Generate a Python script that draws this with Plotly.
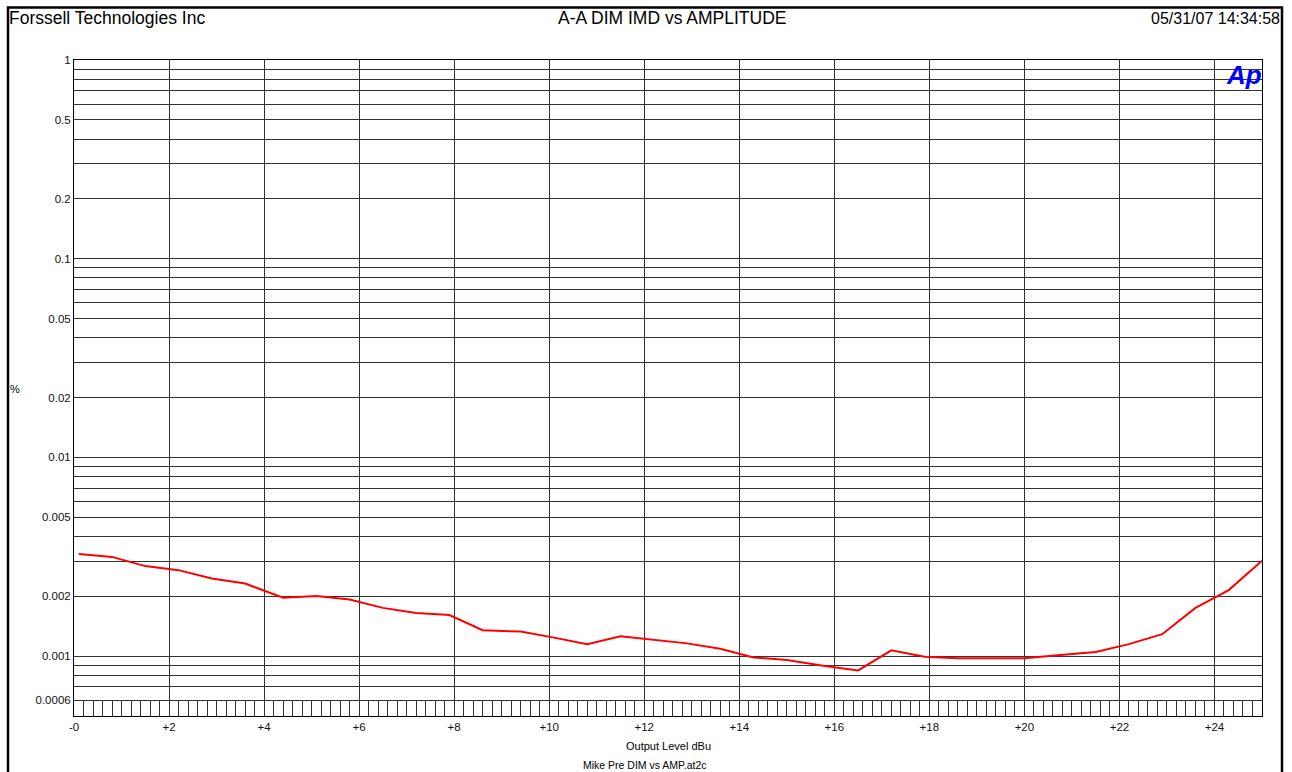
import math
import plotly.graph_objects as go

# Sweep: output level (dBu) vs DIM intermodulation distortion (%)
level_dbu = [0.1, 0.8, 1.5, 2.2, 2.9, 3.6, 4.4, 5.1, 5.8, 6.5, 7.2, 7.9,
             8.6, 9.4, 10.1, 10.8, 11.5, 12.2, 12.9, 13.6, 14.3, 15.0, 15.8, 16.5,
             17.2, 17.9, 18.6, 19.3, 20.0, 20.7, 21.5, 22.2, 22.9, 23.6, 24.3, 25.0]
imd_pct = [0.00327, 0.00316, 0.00284, 0.00271, 0.00246, 0.00232, 0.00197, 0.00201,
           0.00193, 0.00175, 0.00165, 0.00161, 0.00135, 0.00133, 0.00124, 0.00115,
           0.00126, 0.00121, 0.00116, 0.00109, 0.000986, 0.000956, 0.000892, 0.000848,
           0.00107, 0.000993, 0.000975, 0.000975, 0.000975, 0.00101, 0.00105, 0.00115,
           0.00129, 0.00175, 0.00215, 0.00302]

y_tick_vals = [1, 0.5, 0.2, 0.1, 0.05, 0.02, 0.01, 0.005, 0.002, 0.001, 0.0006]
y_tick_text = ["1", "0.5", "0.2", "0.1", "0.05", "0.02", "0.01", "0.005", "0.002", "0.001", "0.0006"]
x_tick_vals = list(range(0, 25, 2))
x_tick_text = ["-0"] + ["+%d" % v for v in x_tick_vals[1:]]

Y_MIN, Y_MAX = 0.0005, 1.0
X_MIN, X_MAX = 0, 25

# decade gridlines (1..9 x 10^n) inside the visible range
y_grid_vals = [m * 10.0 ** e for e in range(-4, 0) for m in range(1, 10)]
y_grid_vals = [v for v in y_grid_vals if Y_MIN <= v <= Y_MAX] + [1.0]

W, H = 1292, 772
ML, MR, MT, MB = 74, 30, 60, 56
PW, PH = W - ML - MR, H - MT - MB


def px(x):
    return (x - ML) / PW


def py(y):
    return (H - MB - y) / PH


FONT = "Liberation Sans, Arial, sans-serif"
GRID = "#333333"

fig = go.Figure()
fig.add_trace(go.Scatter(
    x=level_dbu, y=imd_pct, mode="lines",
    line=dict(color="#ff0000", width=2), showlegend=False,
))

fig.update_layout(
    width=W, height=H,
    margin=dict(l=ML, r=MR, t=MT, b=MB),
    paper_bgcolor="white", plot_bgcolor="white",
    font=dict(family=FONT, color="#000000", size=11),
    showlegend=False,
)

fig.update_xaxes(
    range=[X_MIN, X_MAX],
    tickmode="array", tickvals=x_tick_vals, ticktext=x_tick_text,
    ticks="inside", ticklen=15, tickcolor=GRID, tickwidth=1,
    showgrid=True, gridcolor=GRID, gridwidth=1,
    minor=dict(tickmode="linear", tick0=0, dtick=0.2, ticks="inside",
               ticklen=15, tickcolor=GRID, tickwidth=1, showgrid=False),
    showline=True, linecolor="#000000", linewidth=1, mirror=True,
    zeroline=False,
    tickfont=dict(size=11.5, family=FONT, color="#111111"),
)

fig.update_yaxes(
    type="log",
    range=[math.log10(Y_MIN), math.log10(Y_MAX)],
    tickmode="array", tickvals=y_tick_vals, ticktext=y_tick_text,
    ticks="",
    showgrid=True, gridcolor=GRID, gridwidth=1,
    minor=dict(tickmode="array", tickvals=y_grid_vals, ticks="",
               showgrid=True, gridcolor=GRID, gridwidth=1),
    showline=True, linecolor="#000000", linewidth=1, mirror=True,
    zeroline=False,
    tickfont=dict(size=11.5, family=FONT, color="#111111"),
)

# outer page frame
fig.add_shape(type="rect", xref="paper", yref="paper",
              x0=px(8), x1=px(1282), y0=py(785), y1=py(7.5),
              line=dict(color="#000000", width=2.5), fillcolor="rgba(0,0,0,0)")

annotations = [
    dict(text="Forssell Technologies Inc", x=px(7), y=py(18), xanchor="left",
         yanchor="middle", font=dict(size=17.5)),
    dict(text="A-A DIM IMD vs AMPLITUDE", x=px(672), y=py(18), xanchor="center",
         yanchor="middle", font=dict(size=17.5)),
    dict(text="05/31/07 14:34:58", x=px(1282), y=py(18), xanchor="right",
         yanchor="middle", font=dict(size=16)),
    dict(text="<b><i>Ap</i></b>", x=px(1244), y=py(75), xanchor="center",
         yanchor="middle", font=dict(size=26, color="#0000ff")),
    dict(text="%", x=px(15), y=py(389), xanchor="center", yanchor="middle",
         font=dict(size=11)),
    dict(text="Output Level dBu", x=px(668), y=py(746), xanchor="center",
         yanchor="middle", font=dict(size=11)),
    dict(text="Mike Pre DIM vs AMP.at2c", x=px(645), y=py(765), xanchor="center",
         yanchor="middle", font=dict(size=10.5)),
]
for a in annotations:
    fig.add_annotation(xref="paper", yref="paper", showarrow=False, **a)

fig.write_html("out.html")
